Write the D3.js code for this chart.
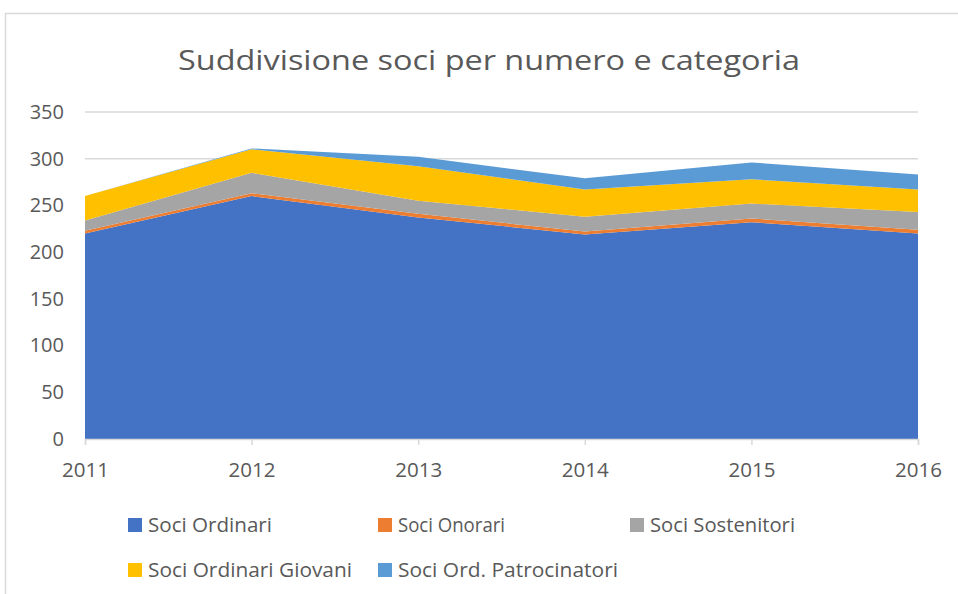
<!DOCTYPE html>
<html><head><meta charset="utf-8">
<script src="https://cdn.jsdelivr.net/npm/d3@7/dist/d3.min.js"></script>
<style>body{margin:0;background:#fff}svg{display:block}text{font-family:"Open Sans",sans-serif;fill:#595959}</style>
</head><body><svg id="c" width="958" height="594"></svg>
<script>
const years = [2011, 2012, 2013, 2014, 2015, 2016];
const seriesNames = ["Soci Ordinari", "Soci Onorari", "Soci Sostenitori", "Soci Ordinari Giovani", "Soci Ord. Patrocinatori"];
const sociOrdinari = [220, 260, 237, 219, 232, 220];
const sociOnorari = [3, 3, 4, 3, 4, 4];
const sociSostenitori = [11, 22, 14, 16, 16, 19];
const sociGiovani = [26, 25, 37, 29, 26, 24];
const sociPatrocinatori = [0, 1, 10, 12, 18, 16];
const yTicks = [0, 50, 100, 150, 200, 250, 300, 350];
const colors = ["#4472C4", "#ED7D31", "#A5A5A5", "#FFC000", "#5B9BD5"];

const svg = d3.select("#c");
// chart border
svg.append("rect").attr("x", 5.5).attr("y", 13.5).attr("width", 960).attr("height", 600)
  .attr("fill", "none").attr("stroke", "#d9d9d9").attr("stroke-width", 1.5);

svg.append("text").attr("x", 489).attr("y", 70).attr("text-anchor", "middle")
  .attr("font-size", 28).attr("textLength", 622).attr("lengthAdjust", "spacingAndGlyphs")
  .text("Suddivisione soci per numero e categoria");

const x = d3.scalePoint().domain(years).range([85, 918]);
const y = d3.scaleLinear().domain([0, 350]).range([439, 112]);

const g = svg.append("g");
// gridlines
g.selectAll("line.grid").data(yTicks.filter(d => d > 0)).join("line")
  .attr("x1", 85).attr("x2", 918).attr("y1", d => y(d)).attr("y2", d => y(d))
  .attr("stroke", "#d9d9d9").attr("stroke-width", 1.5);

const table = years.map((yr, i) => ({
  year: yr, s0: sociOrdinari[i], s1: sociOnorari[i], s2: sociSostenitori[i], s3: sociGiovani[i], s4: sociPatrocinatori[i]
}));
const stack = d3.stack().keys(["s0", "s1", "s2", "s3", "s4"]);
const layers = stack(table);
const area = d3.area().x(d => x(d.data.year)).y0(d => y(d[0])).y1(d => y(d[1]));
g.selectAll("path.layer").data(layers).join("path")
  .attr("d", area).attr("fill", (d, i) => colors[i]);

// x axis
const xAxis = svg.append("g").attr("transform", "translate(0,439)")
  .call(d3.axisBottom(x).tickSize(6).tickPadding(18));
xAxis.select(".domain").attr("stroke", "#d9d9d9").attr("stroke-width", 1.5);
xAxis.selectAll(".tick line").attr("stroke", "#d9d9d9").attr("stroke-width", 1.5);
xAxis.selectAll("text").attr("font-size", 20).attr("textLength", 47).attr("lengthAdjust", "spacingAndGlyphs")
  .style("fill", "#595959").style("font-family", '"Open Sans",sans-serif');

// y axis
const yAxis = svg.append("g").attr("transform", "translate(85,0)")
  .call(d3.axisLeft(y).tickValues(yTicks).tickSize(0).tickPadding(21));
yAxis.select(".domain").remove();
yAxis.selectAll("text").attr("font-size", 20).style("fill", "#595959").style("font-family", '"Open Sans",sans-serif');

// legend
const legendPos = [[128, 525], [378, 525], [630, 525], [128, 570], [378, 570]];
const legendW = [124, 107, 145, 204, 220];
const lg = svg.selectAll("g.leg").data(seriesNames).join("g")
  .attr("transform", (d, i) => `translate(${legendPos[i][0]},${legendPos[i][1]})`);
lg.append("rect").attr("x", 0).attr("y", -7).attr("width", 14).attr("height", 14).attr("fill", (d, i) => colors[i]);
lg.append("text").attr("x", 20).attr("y", 7).attr("font-size", 20)
  .attr("textLength", (d, i) => legendW[i]).attr("lengthAdjust", "spacingAndGlyphs").text(d => d);
</script></body></html>
